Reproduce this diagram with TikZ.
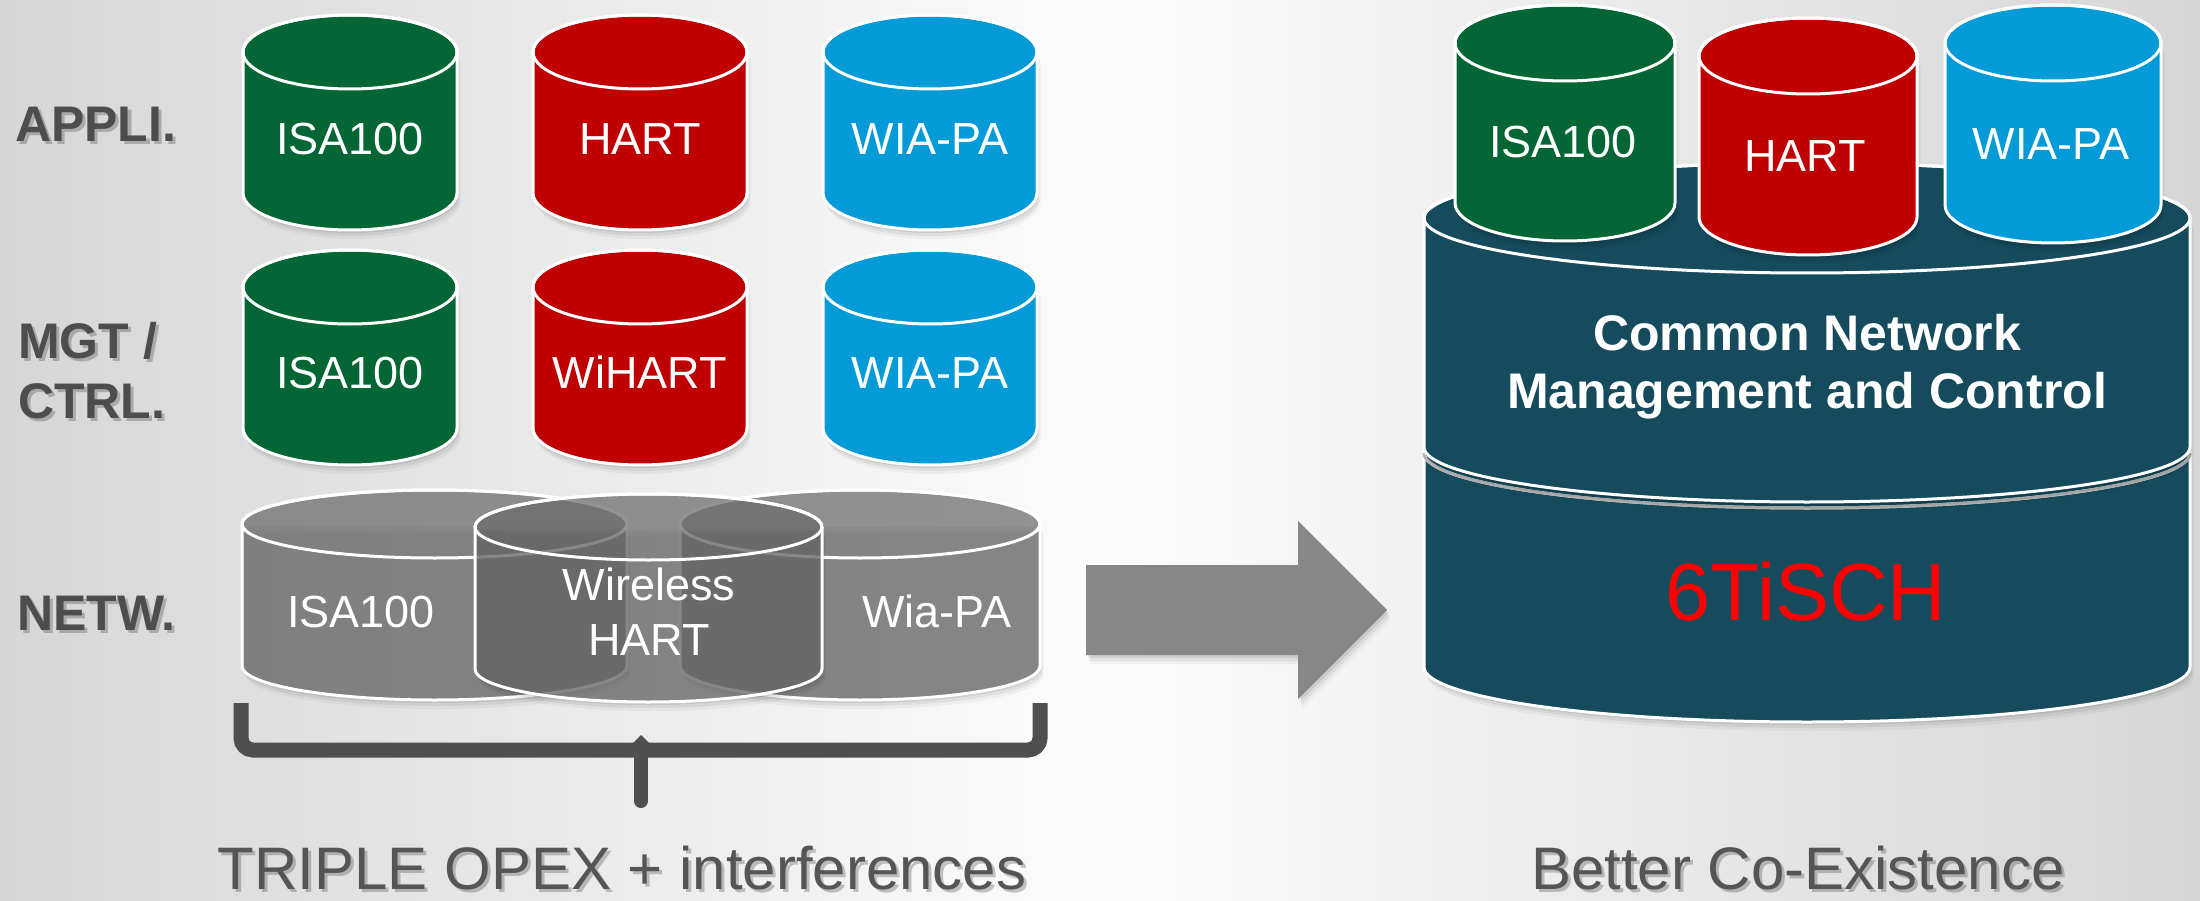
\documentclass[tikz,border=0pt]{standalone}
\usepackage{fontspec}
\setmainfont{Liberation Sans}
\definecolor{cgreen}{HTML}{036634}
\definecolor{cred}{HTML}{C00000}
\definecolor{cblue}{HTML}{039AD8}
\definecolor{cteal}{HTML}{154B5D}
\definecolor{cnet}{HTML}{6A6A6A}
\definecolor{labelgray}{HTML}{4D4D4D}
\definecolor{capgray}{HTML}{555555}
\definecolor{arrowgray}{HTML}{878787}
\definecolor{bracegray}{HTML}{4F4F4F}
\definecolor{bgside}{HTML}{D6D6D6}
\definecolor{bgmid}{HTML}{FCFCFC}
\definecolor{sepgray}{HTML}{B4B4B4}
\newcommand{\fsz}[1]{\fontsize{#1}{#1}\selectfont}
% #1 fill spec, #2 cx, #3 rx, #4 top centre y, #5 bottom centre y, #6 ry
\newcommand{\mycyl}[6]{%
  \foreach \s/\o in {9/0.04,6/0.06,3/0.08}{%
    \fill[black,opacity=\o,shift={(\s*0.4,\s)}] (#2-#3,#4) -- (#2-#3,#5)
      arc[start angle=180,end angle=0,x radius=#3,y radius=#6] -- (#2+#3,#4) -- cycle;}
  \path[#1,draw=white,line width=3pt] (#2-#3,#4) -- (#2-#3,#5)
      arc[start angle=180,end angle=0,x radius=#3,y radius=#6] -- (#2+#3,#4)
      arc[start angle=0,end angle=-180,x radius=#3,y radius=#6] -- cycle;
  \draw[white,line width=3pt] (#2,#4) ellipse[x radius=#3,y radius=#6];
}
\begin{document}
\begin{tikzpicture}[x=1pt,y=-1pt,
  lbl/.style={font=\fsz{50}\bfseries,text=labelgray,inner sep=0pt,anchor=base west},
  ctxt/.style={font=\fsz{45},text=white,inner sep=0pt,anchor=base},
  btxt/.style={font=\fsz{50}\bfseries,text=white,inner sep=0pt,anchor=base},
  captxt/.style={font=\fsz{60},text=capgray,inner sep=0pt,anchor=base,text depth=0pt},
  shtxt/.style={text opacity=0.22,text=black}]
\useasboundingbox (0,0) rectangle (2200,901);
\shade[left color=bgside,right color=bgside,middle color=bgmid] (0,0) rectangle (2200,901);

% ---------- left labels ----------
\node[lbl,shtxt] (lapps) at (18,145) {APPLI.};
\node[lbl] (lapp) at (15,142) {APPLI.};
\node[lbl,shtxt] (lmgts) at (21,361) {MGT /};
\node[lbl] (lmgt) at (18,358) {MGT /};
\node[lbl,shtxt] (lctrls) at (21,421) {CTRL.};
\node[lbl] (lctrl) at (18,418) {CTRL.};
\node[lbl,shtxt] (lnets) at (20,633) {NETW.};
\node[lbl] (lnet) at (17,630) {NETW.};

% ---------- row 1 ----------
\mycyl{fill=cgreen}{350}{107}{52}{193}{37}
\mycyl{fill=cred}{640}{107}{52}{193}{37}
\mycyl{fill=cblue}{930}{107}{52}{193}{37}
\node[ctxt] (a1) at (350,155) {ISA100};
\node[ctxt] (a2) at (640,155) {HART};
\node[ctxt] (a3) at (930,155) {WIA-PA};

% ---------- row 2 ----------
\mycyl{fill=cgreen}{350}{107}{287}{428}{37}
\mycyl{fill=cred}{640}{107}{287}{428}{37}
\mycyl{fill=cblue}{930}{107}{287}{428}{37}
\node[ctxt] (m1) at (350,388) {ISA100};
\node[ctxt] (m2) at (640,388) {WiHART};
\node[ctxt] (m3) at (930,388) {WIA-PA};

% ---------- network row ----------
\mycyl{fill=cnet,fill opacity=0.72}{434.5}{192.5}{524}{666}{34}
\mycyl{fill=cnet,fill opacity=0.72}{860}{180}{524}{666}{34}
\mycyl{fill=cnet,fill opacity=0.72}{648.5}{173.5}{527}{669}{33}
\node[ctxt] (n1) at (361,627) {ISA100};
\node[ctxt] (n2a) at (649,600) {Wireless};
\node[ctxt] (n2b) at (649,655) {HART};
\node[ctxt] (n3) at (937,627) {Wia-PA};

% ---------- brace ----------
\draw[bracegray,line width=15pt,rounded corners=12pt] (241,703) -- (241,750) -- (1040,750) -- (1040,703);
\fill[bracegray] (631,745) -- (641,735) -- (651,745) -- cycle;
\draw[bracegray,line width=14pt,line cap=round] (641,750) -- (641,801);

\node[captxt,shtxt] (caplefts) at (625,892) {TRIPLE OPEX + interferences};
\node[captxt] (capleft) at (622,889) {TRIPLE OPEX + interferences};

% ---------- arrow ----------
\foreach \s/\o in {9/0.04,6/0.06,3/0.08}{%
  \fill[black,opacity=\o,shift={(\s*0.5,\s)}] (1086,565) -- (1298,565) -- (1298,521) -- (1387,610) -- (1298,699) -- (1298,655) -- (1086,655) -- cycle;}
\fill[arrowgray] (1086,565) -- (1298,565) -- (1298,521) -- (1387,610) -- (1298,699) -- (1298,655) -- (1086,655) -- cycle;

% ---------- right stack ----------
\mycyl{fill=cteal}{1807}{383}{453}{667}{55}
\draw[sepgray,line width=3pt] (1424,453) arc[start angle=180,end angle=0,x radius=383,y radius=55];
\mycyl{fill=cteal}{1807}{383}{218}{447}{55}
\node[btxt] (cn1) at (1807,350) {Common Network};
\node[btxt] (cn2) at (1807,408) {Management and Control};
\node[font=\fsz{81},text=red,inner sep=0pt,anchor=base] (six) at (1806,620) {6TiSCH};

\mycyl{fill=cgreen}{1565}{110}{43}{203}{38}
\mycyl{fill=cred}{1808}{109}{56}{217}{38}
\mycyl{fill=cblue}{2053}{108}{43}{205}{38}
\node[ctxt] (r1) at (1563,158) {ISA100};
\node[ctxt] (r2) at (1805,172) {HART};
\node[ctxt] (r3) at (2051,160) {WIA-PA};

\node[captxt,shtxt] (caprights) at (1801,892) {Better Co-Existence};
\node[captxt] (capright) at (1798,889) {Better Co-Existence};
\end{tikzpicture}
\end{document}
